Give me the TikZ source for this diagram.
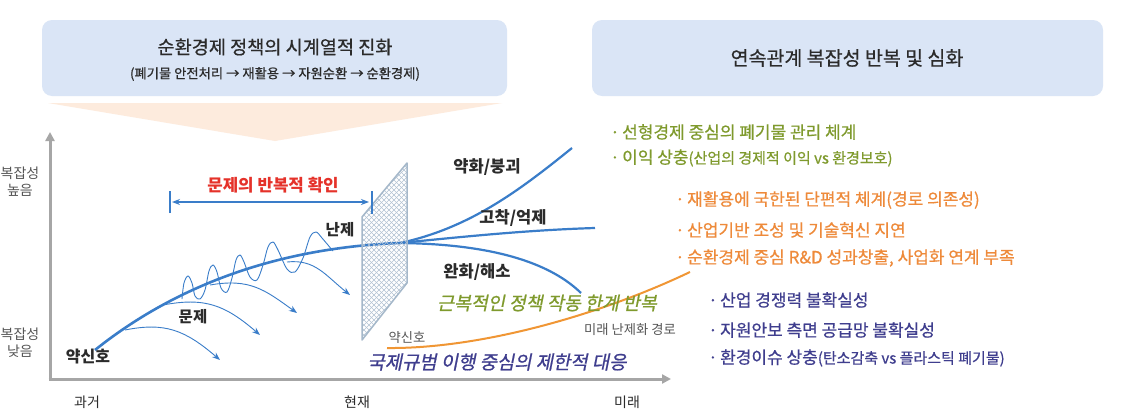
\documentclass[tikz,border=0pt]{standalone}
\usepackage{fontspec}
\setmainfont{Noto Sans CJK KR}
\newfontfamily\slantfont[FakeSlant=0.2, FakeBold=0.8]{Noto Sans CJK KR}
\newfontfamily\medfont[FakeBold=0.6]{Noto Sans CJK KR}
\usetikzlibrary{arrows.meta}
\definecolor{hdr}{HTML}{DAE5F6}
\definecolor{peach}{HTML}{FDEBDD}
\definecolor{bl}{HTML}{3A7DC9}
\definecolor{axisc}{HTML}{A6A6A6}
\definecolor{meshc}{HTML}{B2C2D2}
\definecolor{meshb}{HTML}{A5B8CA}
\definecolor{grn}{HTML}{7F9A2D}
\definecolor{org}{HTML}{EE8A3A}
\definecolor{navy}{HTML}{3F3E8E}
\definecolor{redt}{HTML}{E5322A}
\definecolor{txtd}{HTML}{2B2B2B}
\definecolor{txtg}{HTML}{555555}
\begin{document}
\begin{tikzpicture}[x=1pt,y=-1pt,
  hdrbox/.style={fill=hdr, draw=none, rounded corners=10pt},
  lbl/.style={inner sep=0pt, text=txtd},
  fz/.style={font=\fontsize{#1pt}{#1pt}\selectfont},
  fzm/.style={font=\medfont\fontsize{#1pt}{#1pt}\selectfont},
  fzb/.style={font=\fontsize{#1pt}{#1pt}\selectfont\bfseries},
  fzs/.style={font=\slantfont\fontsize{#1pt}{#1pt}\selectfont},
  mainln/.style={draw=bl, line width=2.6pt},
  branch/.style={draw=bl, line width=2.2pt},
  thinln/.style={draw=bl, line width=0.9pt},
  thinarr/.style={thinln, -{Stealth[length=8pt,width=6pt]}},
  hatch/.style={draw=meshc, line width=0.6pt},
  listg/.style={lbl, anchor=west, text=grn, fzm=17},
  listo/.style={lbl, anchor=west, text=org, fzm=17},
  listn/.style={lbl, anchor=west, text=navy, fzm=17},
]
\useasboundingbox (0,0) rectangle (1128,415);
\fill[white] (0,0) rectangle (1128,415);

% headers
\path[hdrbox] (42,20) rectangle (507,96);
\path[hdrbox] (592,20) rectangle (1103,96);
\fill[peach] (48,103) -- (502,103) -- (275,141) -- cycle;
\node[lbl, fzm=18.6] (tl) at (275,47) {순환경제 정책의 시계열적 진화};
\node[lbl, fzm=13.3] (sl) at (275,74) {(폐기물 안전처리 → 재활용 → 자원순환 → 순환경제)};
\node[lbl, fzm=19.5] (tr) at (847,58) {연속관계 복잡성 반복 및 심화};

% axes
\coordinate (O) at (50,379);
\coordinate (Ytop) at (50,132);
\coordinate (Xend) at (671,379);
\draw[axisc, line width=3pt, -{Triangle[length=9pt,width=9pt]}] (O) -- (Ytop);
\draw[axisc, line width=3pt, -{Triangle[length=9pt,width=9pt]}] ([xshift=-1.5pt]O) -- (Xend);
\node[lbl, fz=14, align=center, text=txtg] (yh) at (20,182) {복잡성\\[3pt]높음};
\node[lbl, fz=14, align=center, text=txtg] (yl) at (20,343) {복잡성\\[3pt]낮음};
\node[lbl, fz=14] (past) at (87,402) {과거};
\node[lbl, fz=14] (now) at (357,402) {현재};
\node[lbl, fz=14] (fut) at (627,402) {미래};

% main curve and branches
\coordinate (ws) at (95,350);
\coordinate (bp) at (400,243);
\coordinate (eUp) at (572,148);
\coordinate (eFl) at (595,228);
\coordinate (eDn) at (581,293);
\draw[mainln] (ws) .. controls (170,290) and (270,248) .. (bp);
\draw[branch] (bp) .. controls (470,228) and (520,190) .. (eUp);
\draw[branch] (bp) .. controls (470,236) and (530,230) .. (eFl);
\draw[branch] (bp) .. controls (480,244) and (545,258) .. (eDn);

% thin arrows
\coordinate (a1s) at (125,330); \coordinate (a1e) at (220,360);
\coordinate (a2s) at (163,305); \coordinate (a2e) at (260,335);
\coordinate (a3s) at (210,285); \coordinate (a3e) at (297,313);
\coordinate (a4s) at (287,262); \coordinate (a4e) at (350,295);
\draw[thinarr] (a1s) .. controls (165,322) and (185,330) .. (a1e);
\draw[thinarr] (a2s) .. controls (205,297) and (225,305) .. (a2e);
\draw[thinarr] (a3s) .. controls (250,278) and (265,290) .. (a3e);
\draw[thinarr] (a4s) .. controls (315,259) and (325,275) .. (a4e);

% coil
\draw[thinln] plot[smooth, tension=0.55] coordinates {
 (182,299) (184,283) (188,276) (192,283) (195,296) (200,299) (205,290) (209,271) (213,265) (217,272) (221,288) (227,292) (232,278) (236,260) (240,255) (244,262) (250,277) (257,280) (263,265) (268,247) (273,242) (278,250) (287,269) (295,272) (303,258) (310,237) (316,232) (322,238) (333,251)};

% orange curve
\coordinate (os) at (387,348);
\coordinate (oe) at (690,272);
\draw[org!90!yellow, line width=2pt] (os) .. controls (480,349) and (600,315) .. (oe);

% mesh
\coordinate (m1) at (362,217);
\coordinate (m2) at (407,163);
\coordinate (m3) at (407,283);
\coordinate (m4) at (362,340);
\begin{scope}
\clip (m1) -- (m2) -- (m3) -- (m4) -- cycle;
\foreach \i in {-200,-195,...,200} {
  \draw[hatch] (\i+384,250) ++(-130,-130) -- ++(260,260);
  \draw[hatch] (\i+384,250) ++(-130,130) -- ++(260,-260);
}
\end{scope}
\draw[meshb, line width=1.5pt, line join=round] (m1) -- (m2) -- (m3) -- (m4) -- cycle;

% double arrow
\coordinate (dl) at (170,202);
\coordinate (dr) at (372,202);
\draw[bl, line width=1.3pt] ([yshift=-11pt]dl) -- ([yshift=11pt]dl);
\draw[bl, line width=1.3pt] ([yshift=-12pt]dr) -- ([yshift=11pt]dr);
\draw[bl, line width=1.3pt, {Stealth[length=8pt,width=6pt]}-{Stealth[length=8pt,width=6pt]}] ([xshift=2pt]dl) -- ([xshift=-3pt]dr);
\node[lbl, fzb=16.8, text=redt] (rep) at (273,185) {문제의 반복적 확인};

% labels on graph
\node[lbl, fzb=15.5] (nanje) at (340,230) {난제};
\node[lbl, fzb=15.5] (munje) at (193,317) {문제};
\node[lbl, fzb=16] (yak) at (88,357) {약신호};
\node[lbl, fzb=16.5] (up) at (487,167) {약화/붕괴};
\node[lbl, fzb=16.5] (fl) at (513,218) {고착/억제};
\node[lbl, fzb=16.5] (dn) at (477,272) {완화/해소};
\node[lbl, fzs=18.4, text=grn] (gi) at (547,303) {근복적인 정책 작동 한계 반복};
\node[lbl, fz=13.3, text=txtg] (fp) at (630,330) {미래 난제화 경로};
\node[lbl, fz=13.3, text=txtg] (ys) at (407,338) {약신호};
\node[lbl, fzs=18.8, text=navy] (ni) at (497,362) {국제규범 이행 중심의 제한적 대응};

% right lists
\node[listg] (g1) at (610,132) {\makebox[12pt][l]{·}선형경제 중심의 폐기물 관리 체계};
\node[listg] (g2) at (610,158) {\makebox[12pt][l]{·}이익 상충{\fontsize{15pt}{15pt}\selectfont(산업의 경제적 이익 vs 환경보호)}};
\node[listo] (o1) at (675,200) {\makebox[12pt][l]{·}재활용에 국한된 단편적 체계(경로 의존성)};
\node[listo] (o2) at (675,230) {\makebox[12pt][l]{·}산업기반 조성 및 기술혁신 지연};
\node[listo] (o3) at (675,258) {\makebox[12pt][l]{·}순환경제 중심 R\&D 성과창출, 사업화 연계 부족};
\node[listn] (n1) at (708,300) {\makebox[12pt][l]{·}산업 경쟁력 불확실성};
\node[listn] (n2) at (708,330) {\makebox[12pt][l]{·}자원안보 측면 공급망 불확실성};
\node[listn] (n3) at (708,358) {\makebox[12pt][l]{·}환경이슈 상충{\fontsize{15pt}{15pt}\selectfont(탄소감축 vs 플라스틱 폐기물)}};
\end{tikzpicture}
\end{document}
